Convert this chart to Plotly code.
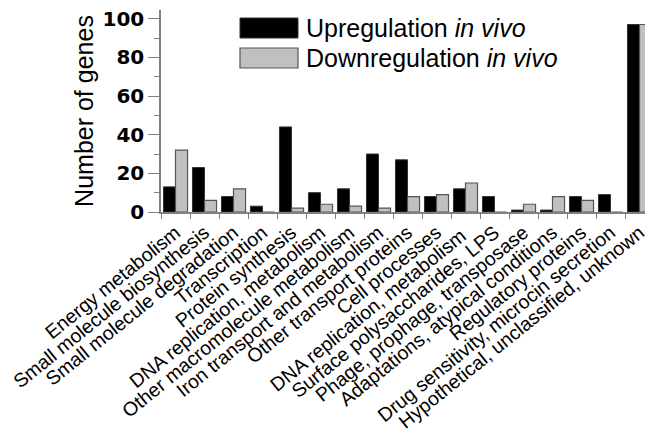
import plotly.graph_objects as go

categories = [
    "Energy metabolism",
    "Small molecule biosynthesis",
    "Small molecule degradation",
    "Transcription",
    "Protein synthesis",
    "DNA replication, metabolism",
    "Other macromolecule metabolism",
    "Iron transport and metabolism",
    "Other transport proteins",
    "Cell processes",
    "DNA replication, metabolism ",
    "Surface polysaccharides, LPS",
    "Phage, prophage, transposase",
    "Adaptations, atypical conditions",
    "Regulatory proteins",
    "Drug sensitivity, microcin secretion",
    "Hypothetical, unclassified, unknown",
]
up_in_vivo = [13, 23, 8, 3, 44, 10, 12, 30, 27, 8, 12, 8, 1, 1, 8, 9, 97]
down_in_vivo = [32, 6, 12, 0, 2, 4, 3, 2, 8, 9, 15, 0, 4, 8, 6, 0, 97]
y_ticks = [0, 20, 40, 60, 80, 100]

FONT = "Liberation Sans, Arial, sans-serif"

fig = go.Figure()
fig.add_trace(go.Bar(
    x=categories, y=up_in_vivo, name="Upregulation in vivo",
    marker=dict(color="#000000", line=dict(color="#333333", width=1)),
))
fig.add_trace(go.Bar(
    x=categories, y=down_in_vivo, name="Downregulation in vivo",
    marker=dict(color="#c0c0c0", line=dict(color="#555555", width=1.2)),
))

# page has an 8px body margin: window coords = figure coords + 8
OFF = 8
W, H = 653, 431
L, R, T, B = 161 - OFF, 653 - (654 - OFF), 10 - OFF, H - (212 - OFF)
pw, ph = W - L - R, H - T - B

def px(xw):
    return (xw - OFF - L) / pw

def py(yw):
    return (H - B - (yw - OFF)) / ph

# custom legend
fig.add_shape(type="rect", xref="paper", yref="paper",
              x0=px(240), x1=px(298), y0=py(38), y1=py(18),
              fillcolor="#000000", line=dict(color="#333333", width=1))
fig.add_shape(type="rect", xref="paper", yref="paper",
              x0=px(240), x1=px(298), y0=py(68), y1=py(48),
              fillcolor="#c0c0c0", line=dict(color="#555555", width=1.2))
fig.add_annotation(xref="paper", yref="paper", x=px(304), y=py(28),
                   xanchor="left", yanchor="middle", showarrow=False,
                   text="Upregulation <i>in vivo</i>",
                   font=dict(family=FONT, size=25, color="#000000"))
fig.add_annotation(xref="paper", yref="paper", x=px(304), y=py(58),
                   xanchor="left", yanchor="middle", showarrow=False,
                   text="Downregulation <i>in vivo</i>",
                   font=dict(family=FONT, size=25, color="#000000"))

fig.update_layout(
    width=W, height=H,
    margin=dict(l=L, r=R, t=T, b=B, autoexpand=False),
    paper_bgcolor="white", plot_bgcolor="white",
    barmode="group", bargap=0.17, bargroupgap=0,
    showlegend=False,
    font=dict(family=FONT, color="#000000"),
)
fig.update_xaxes(
    range=[-0.5, len(categories) - 0.5],
    showline=True, linecolor="#808080", linewidth=1.5,
    ticks="outside", tickson="boundaries", ticklen=5, tickcolor="#808080", tickwidth=1.2,
    tickangle=-39, tickfont=dict(family=FONT, size=19.5, color="#000000"),
    ticklabeloverflow="allow",
    showgrid=False, zeroline=False, automargin=False,
)
fig.update_yaxes(
    range=[0, 104.5],
    tickvals=y_ticks,
    showline=True, linecolor="#808080", linewidth=1.5,
    ticks="outside", ticklen=11, tickcolor="#808080", tickwidth=1.2,
    minor=dict(dtick=10, tick0=0, ticks="outside", ticklen=5, tickcolor="#808080", tickwidth=1.2, showgrid=False),
    tickfont=dict(family="DejaVu Sans, sans-serif", size=20, color="#000000", weight="bold"),
    ticklabeloverflow="allow",
    title=dict(text="Number of genes", font=dict(family=FONT, size=25, color="#000000"), standoff=2),
    showgrid=False, zeroline=False, automargin=False,
)

fig.write_html("out.html")
